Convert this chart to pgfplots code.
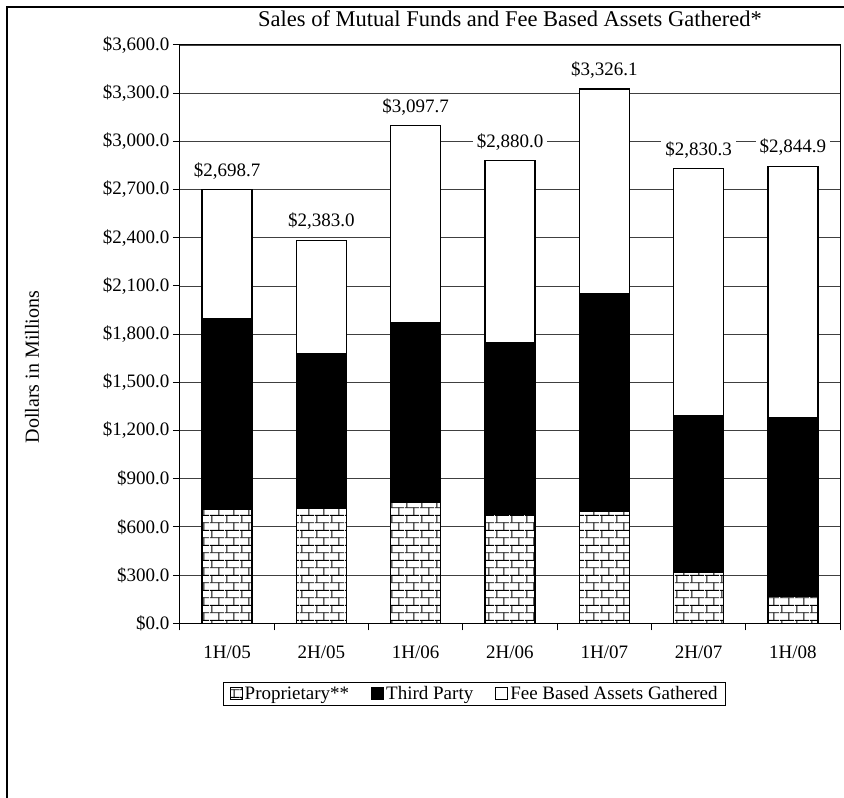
\documentclass[border=0pt]{standalone}
\usepackage{pgfplots}
\pgfplotsset{compat=1.18}
\usepackage{pgfplotstable}
\usepackage{fontspec}
\setmainfont{Liberation Serif}
\usetikzlibrary{patterns.meta}

\tikzdeclarepattern{
  name=mybricks,
  type=uncolored,
  bounding box={(0pt,0pt) and (15pt,15.4pt)},
  tile size={(15pt,15.4pt)},
  code={
    \tikzset{line width=2.6pt}
    \draw (0pt,1.3pt) -- (15pt,1.3pt);
    \draw (0pt,9pt) -- (15pt,9pt);
    \draw (2pt,1.3pt) -- (2pt,9pt);
    \draw (9.5pt,9pt) -- (9.5pt,15.4pt);
    \draw (9.5pt,0pt) -- (9.5pt,1.3pt);
  }
}

\pgfplotstableread{
x prop third fee total
0 707 1189 802.7 2698.7
1 716 964 703.0 2383.0
2 753 1116 1228.7 3097.7
3 676 1073 1131.0 2880.0
4 695 1355 1276.1 3326.1
5 315 975 1540.3 2830.3
6 170 1112 1562.9 2844.9
}\datatable

\pgfplotsset{
  commonaxis/.style={
    at={(180pt,174.7pt)}, anchor=south west,
    scale only axis, width=660pt, height=578.3pt,
    xmin=-0.5, xmax=6.5, ymin=0, ymax=3600,
  }
}

\begin{document}
\begin{tikzpicture}
\useasboundingbox (0pt,0pt) rectangle (844pt,798pt);
\begin{axis}[
  commonaxis,
  ybar stacked, bar width=50pt,
  /pgf/number format/assume math mode=true,
  ytick={0,300,...,3600},
  yticklabels={\$0.0,\$300.0,\$600.0,\$900.0,\$1{,}200.0,\$1{,}500.0,\$1{,}800.0,\$2{,}100.0,\$2{,}400.0,\$2{,}700.0,\$3{,}000.0,\$3{,}300.0,\$3{,}600.0},
  xtick={-0.5,0.5,...,6.5},
  xticklabels={1H/05,2H/05,1H/06,2H/06,1H/07,2H/07,1H/08,{}},
  xticklabel style={xshift=47.14pt, anchor=base, yshift=-27.8pt},
  tick label style={font=\fontsize{19}{22}\selectfont},
  tick align=outside, major tick length=7pt,
  xtick pos=bottom, ytick pos=left,
  tick style={black, line width=1pt},
  axis line style={black, line width=1pt},
  ymajorgrids, major grid style={black!75, line width=0.9pt},
  title={Sales of Mutual Funds and Fee Based Assets Gathered*},
  title style={at={(axis description cs:0.5,1)}, anchor=base, yshift=12pt, font=\fontsize{22.5}{26}\selectfont},
  ylabel={Dollars in Millions},
  ylabel style={at={(axis description cs:-0.2242,0.4432)}, anchor=center, font=\fontsize{20}{24}\selectfont},
  legend columns=-1,
  legend style={at={(axis description cs:0.4465,-0.102)}, anchor=north, draw=black, line width=1pt,
    font=\fontsize{19}{22}\selectfont, inner xsep=6pt, inner ysep=2pt,
    /tikz/every even column/.append style={column sep=20pt},
    nodes={inner sep=2pt}},
  legend image code/.code={\draw[#1, line width=1pt] (0pt,-5pt) rectangle (12pt,7pt);},
  every axis plot/.append style={draw=black, line width=1.3pt},
]
\addplot[fill=white, postaction={pattern=mybricks, pattern color=black}] table[x=x, y=prop] {\datatable};
\addplot[fill=black] table[x=x, y=third] {\datatable};
\addplot[fill=white] table[x=x, y=fee] {\datatable};
\legend{Proprietary**, Third Party, Fee Based Assets Gathered}
\end{axis}
\begin{axis}[commonaxis, hide axis]
\addplot[draw=none, mark=none,
  point meta=explicit,
  nodes near coords={\$\pgfmathprintnumber[fixed,fixed zerofill,precision=1,1000 sep={,},assume math mode=true]{\pgfplotspointmeta}},
  nodes near coords style={anchor=base, yshift=13.5pt, fill=white, inner xsep=4pt, inner ysep=2pt, font=\fontsize{19}{22}\selectfont, text=black, draw=none}
] table[x=x, y=total, meta=total] {\datatable};
\end{axis}
\draw[line width=1.3pt] (7pt,0pt) -- (7pt,791pt) -- (850pt,791pt);
\end{tikzpicture}
\end{document}
